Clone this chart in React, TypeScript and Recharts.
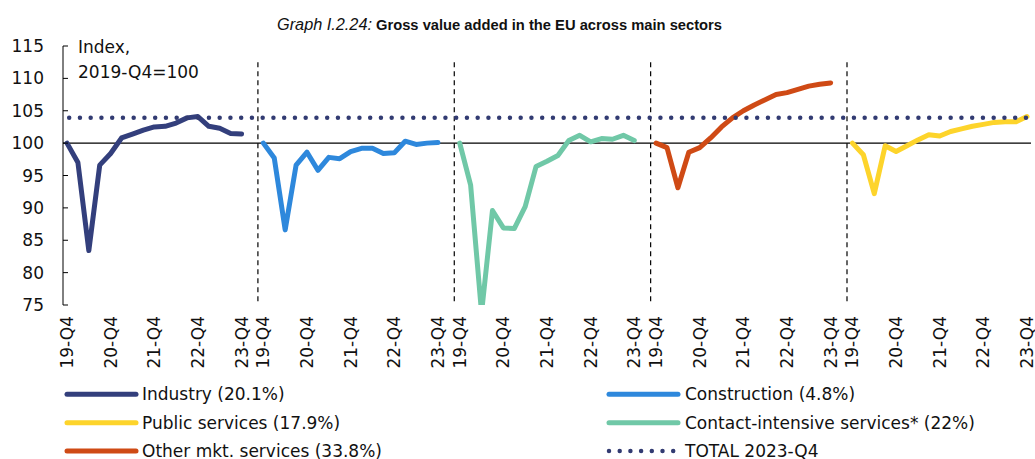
import React from 'react';
import { LineChart, Line, XAxis, YAxis, ReferenceLine } from 'recharts';

const quarterLabels = ['19-Q4', '20-Q4', '21-Q4', '22-Q4', '23-Q4'];
const yTicks = [75, 80, 85, 90, 95, 100, 105, 110, 115];

const industry = [100, 97.0, 83.4, 96.6, 98.4, 100.8, 101.4, 102.0, 102.5, 102.6, 103.1, 103.9, 104.1, 102.6, 102.3, 101.5, 101.4];
const construction = [100, 97.7, 86.6, 96.6, 98.6, 95.8, 97.8, 97.6, 98.7, 99.2, 99.2, 98.4, 98.5, 100.3, 99.8, 100.0, 100.1];
const contactIntensive = [100, 93.5, 73.8, 89.6, 86.9, 86.8, 90.2, 96.4, 97.2, 98.1, 100.4, 101.2, 100.2, 100.7, 100.6, 101.2, 100.4];
const otherMkt = [100, 99.3, 93.1, 98.6, 99.3, 100.8, 102.5, 103.9, 105.0, 105.9, 106.7, 107.5, 107.8, 108.3, 108.8, 109.1, 109.3];
const publicServices = [100, 98.2, 92.2, 99.6, 98.7, 99.6, 100.5, 101.3, 101.1, 101.8, 102.2, 102.6, 102.9, 103.2, 103.3, 103.3, 104.1];
const total2023Q4 = 103.9;

const series = [
  { key: 'industry', name: 'Industry (20.1%)', values: industry, color: '#333f7c' },
  { key: 'construction', name: 'Construction (4.8%)', values: construction, color: '#2e88dc' },
  { key: 'contact', name: 'Contact-intensive services* (22%)', values: contactIntensive, color: '#70c8a7' },
  { key: 'other', name: 'Other mkt. services (33.8%)', values: otherMkt, color: '#cf4a15' },
  { key: 'public', name: 'Public services (17.9%)', values: publicServices, color: '#fdd42b' },
];
const TOTAL_COLOR = '#323b72';

const PANEL = 18; // 17 quarters + 1 gap
const N = 17;
const maxX = PANEL * (series.length - 1) + N - 1;

const data: any[] = [];
for (let x = 0; x <= maxX; x++) {
  const row: any = { x };
  series.forEach((s, p) => {
    const i = x - p * PANEL;
    row[s.key] = i >= 0 && i < N ? s.values[i] : null;
  });
  data.push(row);
}

const xTicks: number[] = [];
series.forEach((_, p) => quarterLabels.forEach((_, q) => xTicks.push(p * PANEL + q * 4)));
const separators = series.slice(1).map((_, p) => (p + 1) * PANEL - 0.5);

const FONT = '"DejaVu Sans", sans-serif';

const XTick = (props: any) => {
  const { x, payload } = props;
  const idx = Math.round((payload.value % PANEL) / 4);
  return (
    <text
      transform={`translate(${x},316) rotate(-90)`}
      textAnchor="end"
      dominantBaseline="central"
      fontFamily={FONT}
      fontSize={17}
      fill="#111"
    >
      {quarterLabels[idx]}
    </text>
  );
};

const YTick = (props: any) => {
  const { y, payload } = props;
  return (
    <g>
      <line x1={63} x2={68} y1={y} y2={y} stroke="#000" strokeWidth={1} />
      <text x={44} y={y} textAnchor="end" dominantBaseline="central" fontFamily={FONT} fontSize={17} fill="#111">
        {payload.value}
      </text>
    </g>
  );
};

const legendLayout = [
  { key: 'industry', col: 0, row: 0 },
  { key: 'construction', col: 1, row: 0 },
  { key: 'public', col: 0, row: 1 },
  { key: 'contact', col: 1, row: 1 },
  { key: 'other', col: 0, row: 2 },
];
const colX = [[67, 136, 142], [609, 678, 685]];
const rowY = [394.3, 422.7, 451];

export default function App() {
  return (
    <div style={{ position: 'absolute', left: 0, top: 0, width: 1035, height: 459, background: '#fff' }}>
      <LineChart
        width={1035}
        height={459}
        data={data}
        margin={{ top: 46, right: 4, left: 0, bottom: 0 }}
      >
        <XAxis
          type="number"
          dataKey="x"
          domain={[0, maxX]}
          ticks={xTicks}
          interval={0}
          axisLine={false}
          tickLine={false}
          height={154}
          padding={{ left: 4, right: 4 }}
          tick={<XTick />}
        />
        <YAxis
          type="number"
          domain={[75, 115]}
          ticks={yTicks}
          interval={0}
          allowDataOverflow
          width={63}
          axisLine={{ stroke: '#000', strokeWidth: 1 }}
          tickLine={false}
          tick={<YTick />}
        />
        <ReferenceLine y={100} stroke="#000" strokeWidth={1.2} />
        {separators.map((sx) => (
          <ReferenceLine
            key={sx}
            segment={[{ x: sx, y: 112.5 }, { x: sx, y: 75 }]}
            stroke="#000"
            strokeWidth={1.2}
            strokeDasharray="5 4"
          />
        ))}
        {series.map((s) => (
          <Line
            key={s.key}
            type="linear"
            dataKey={s.key}
            name={s.name}
            stroke={s.color}
            strokeWidth={5}
            strokeLinejoin="round"
            strokeLinecap="round"
            dot={false}
            activeDot={false}
            isAnimationActive={false}
          />
        ))}
        <ReferenceLine
          segment={[{ x: 0.2, y: total2023Q4 }, { x: maxX, y: total2023Q4 }]}
          stroke={TOTAL_COLOR}
          strokeWidth={4.5}
          strokeLinecap="round"
          strokeDasharray="0 10.75"
        />
      </LineChart>
      <svg
        width={1035}
        height={459}
        style={{ position: 'absolute', left: 0, top: 0, pointerEvents: 'none' }}
      >
        <text x={277} y={30} fontFamily='"Liberation Sans", Arial, sans-serif' fontStyle="italic" fontSize={16} fill="#111" textLength={95} lengthAdjust="spacingAndGlyphs">
          Graph I.2.24:
        </text>
        <text x={376} y={30} fontFamily='"Liberation Sans", Arial, sans-serif' fontWeight="bold" fontSize={15.5} fill="#111" textLength={346} lengthAdjust="spacingAndGlyphs">
          Gross value added in the EU across main sectors
        </text>
        <text x={78} y={52.7} fontFamily={FONT} fontSize={17} fill="#111">Index,</text>
        <text x={78} y={78.3} fontFamily={FONT} fontSize={17} fill="#111">2019-Q4=100</text>
        {legendLayout.map((l) => {
          const s = series.find((q) => q.key === l.key)!;
          const [x1, x2, tx] = colX[l.col];
          const y = rowY[l.row];
          return (
            <g key={l.key}>
              <line x1={x1} x2={x2} y1={y} y2={y} stroke={s.color} strokeWidth={5} strokeLinecap="round" />
              <text x={tx} y={y} dominantBaseline="central" fontFamily={FONT} fontSize={17} fill="#111">
                {s.name}
              </text>
            </g>
          );
        })}
        <g>
          <line x1={colX[1][0]} x2={colX[1][1]} y1={rowY[2]} y2={rowY[2]} stroke={TOTAL_COLOR} strokeWidth={4.5} strokeLinecap="round" strokeDasharray="0 10.7" />
          <text x={colX[1][2]} y={rowY[2]} dominantBaseline="central" fontFamily={FONT} fontSize={17} fill="#111">
            TOTAL 2023-Q4
          </text>
        </g>
      </svg>
    </div>
  );
}
